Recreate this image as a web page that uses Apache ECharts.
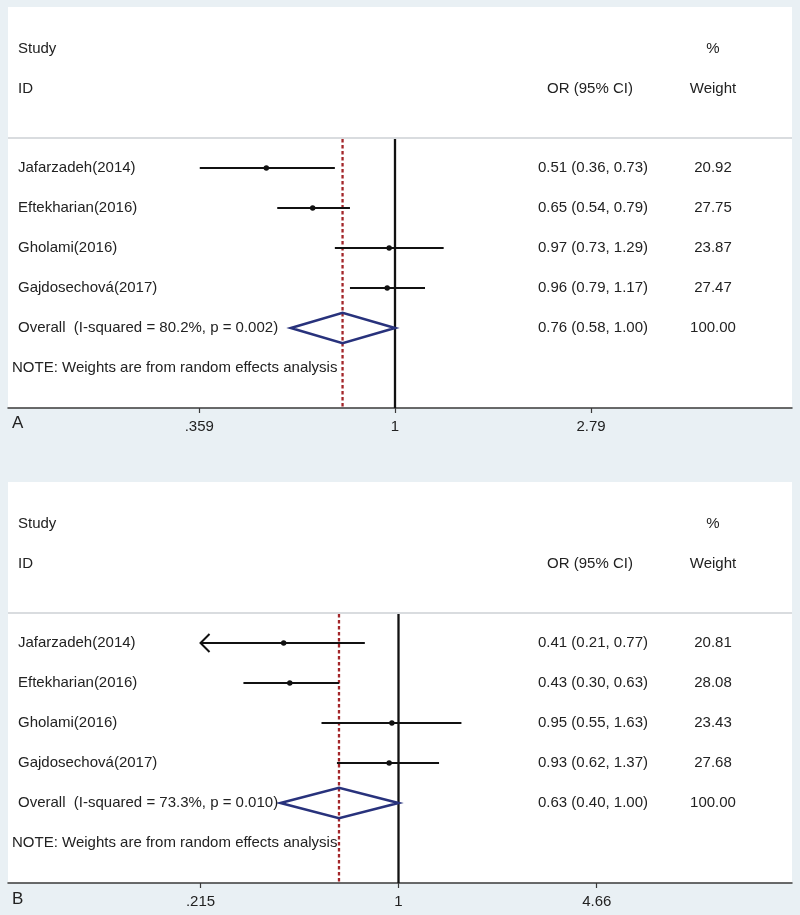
<!DOCTYPE html>
<html><head><meta charset="utf-8">
<script src="https://cdn.jsdelivr.net/npm/echarts@6/dist/echarts.min.js"></script>
<style>html,body{margin:0;padding:0;background:#e9f0f4}#c{width:800px;height:915px}</style>
</head><body><div id="c"></div>
<script>
// ---------- data ----------
const studies = ['Jafarzadeh(2014)', 'Eftekharian(2016)', 'Gholami(2016)', 'Gajdosechová(2017)'];

const orA = [0.51, 0.65, 0.97, 0.96];
const loA = [0.36, 0.54, 0.73, 0.79];
const hiA = [0.73, 0.79, 1.29, 1.17];
const weightA = ['20.92', '27.75', '23.87', '27.47'];
const overallA = [0.76, 0.58, 1.00];
const overallLabelA = 'Overall  (I-squared = 80.2%, p = 0.002)';
const ticksA = [0.359, 1, 2.79];
const tickLabelsA = ['.359', '1', '2.79'];

const orB = [0.41, 0.43, 0.95, 0.93];
const loB = [0.21, 0.30, 0.55, 0.62];
const hiB = [0.77, 0.63, 1.63, 1.37];
const weightB = ['20.81', '28.08', '23.43', '27.68'];
const overallB = [0.63, 0.40, 1.00];
const overallLabelB = 'Overall  (I-squared = 73.3%, p = 0.010)';
const ticksB = [0.215, 1, 4.66];
const tickLabelsB = ['.215', '1', '4.66'];

const noteText = 'NOTE: Weights are from random effects analysis';
const headers = ['Study', 'ID', '%', 'OR (95% CI)', 'Weight'];

// ---------- layout ----------
const FONT = '"Liberation Sans", Arial, sans-serif';
const TXT = '#222';
const GRID_LEFT = 8, GRID_W = 784, GRID_H = 401;
const Y_MIN = -4.025, Y_MAX = 6, SEP_ROW = -0.75;

function fmt(v) { return v.toFixed(2); }

function panel(idx, top, or, lo, hi, w, overall, overallLabel, ticks, tickLabels, onePx, pxPerLn) {
  const lnMin = -(onePx - GRID_LEFT) / pxPerLn;
  const lnMax = (GRID_LEFT + GRID_W - onePx) / pxPerLn;
  const clipMin = ticks[0], clipMax = ticks[ticks.length - 1];
  const grid = { left: GRID_LEFT, top: top, width: GRID_W, height: GRID_H, show: true, backgroundColor: '#fff', borderWidth: 0 };
  const xAxis = {
    gridIndex: idx, type: 'log', logBase: Math.E,
    min: Math.exp(lnMin), max: Math.exp(lnMax),
    splitLine: { show: false },
    axisLine: { show: true, onZero: false, lineStyle: { color: '#3a3a3a', width: 1.5 } },
    axisTick: { show: true, length: 5, customValues: ticks, lineStyle: { color: '#3a3a3a', width: 1.2 } },
    axisLabel: {
      customValues: ticks, margin: 11, color: TXT, fontFamily: FONT, fontSize: 15,
      formatter: function (v) {
        const i = ticks.findIndex(t => Math.abs(t - v) / t < 1e-3);
        return i >= 0 ? tickLabels[i] : '';
      }
    }
  };
  const yAxis = { gridIndex: idx, type: 'value', inverse: true, min: Y_MIN, max: Y_MAX, show: false };

  const studyData = or.map((v, i) => [v, lo[i], hi[i], i]);
  const series = [];
  // separator line under header
  series.push({
    type: 'custom', xAxisIndex: idx, yAxisIndex: idx, silent: true, clip: false,
    data: [[1, SEP_ROW]],
    renderItem: function (params, api) {
      const cs = params.coordSys;
      const y = api.coord([1, SEP_ROW])[1];
      return { type: 'line', shape: { x1: cs.x, y1: y, x2: cs.x + cs.width, y2: y }, style: { stroke: '#d9dcdf', lineWidth: 2 } };
    }
  });
  // null line at 1 and dashed overall line
  series.push({
    type: 'custom', xAxisIndex: idx, yAxisIndex: idx, silent: true, clip: false, z: 3,
    data: [[1, 0], [overall[0], 1]],
    renderItem: function (params, api) {
      const x = api.value(0);
      const p1 = api.coord([x, SEP_ROW]), p2 = api.coord([x, Y_MAX]);
      const dashed = api.value(1) === 1;
      return {
        type: 'line', shape: { x1: p1[0], y1: p1[1] + 1, x2: p2[0], y2: p2[1] },
        style: dashed ? { stroke: '#a3262a', lineWidth: 2.3, lineDash: [3.5, 2.5] } : { stroke: '#111', lineWidth: 2.3 }
      };
    }
  });
  // study CIs
  series.push({
    type: 'custom', xAxisIndex: idx, yAxisIndex: idx, silent: true, clip: false, z: 4,
    data: studyData,
    renderItem: function (params, api) {
      const o = api.value(0), l = api.value(1), h = api.value(2), r = api.value(3);
      const a = api.coord([Math.max(l, clipMin), r]);
      const b = api.coord([Math.min(h, clipMax), r]);
      const c = api.coord([o, r]);
      const kids = [
        { type: 'line', shape: { x1: a[0], y1: a[1], x2: b[0], y2: b[1] }, style: { stroke: '#111', lineWidth: 2.2 } },
        { type: 'circle', shape: { cx: c[0], cy: c[1], r: 2.7 }, style: { fill: '#111' } }
      ];
      if (l < clipMin) {
        kids.push({ type: 'polyline', shape: { points: [[a[0] + 9, a[1] - 9], [a[0], a[1]], [a[0] + 9, a[1] + 9]] }, style: { stroke: '#111', lineWidth: 2, fill: null } });
      }
      return { type: 'group', children: kids };
    }
  });
  // overall diamond
  series.push({
    type: 'custom', xAxisIndex: idx, yAxisIndex: idx, silent: true, clip: false, z: 5,
    data: [[overall[0], overall[1], overall[2], 4]],
    renderItem: function (params, api) {
      const o = api.value(0), l = api.value(1), h = api.value(2), r = api.value(3);
      const pts = [api.coord([l, r]), api.coord([o, r - 0.38]), api.coord([h, r]), api.coord([o, r + 0.38])];
      return { type: 'polygon', shape: { points: pts }, style: { stroke: '#28327c', lineWidth: 2.6, fill: null } };
    }
  });
  // table text
  const rowsText = [];
  for (let i = 0; i < studies.length; i++) rowsText.push([studies[i], or[i], lo[i], hi[i], w[i], i]);
  rowsText.push([overallLabel, overall[0], overall[1], overall[2], '100.00', 4]);
  series.push({
    type: 'custom', xAxisIndex: idx, yAxisIndex: idx, silent: true, clip: false, z: 6,
    data: [[1, 0]],
    renderItem: function (params, api) {
      const cs = params.coordSys;
      const kids = [];
      const font = (align) => ({ fill: TXT, font: '15px ' + FONT, textAlign: align, textVerticalAlign: 'middle' });
      const yOf = (r) => api.coord([1, r])[1];
      const xStudy = cs.x + 10, xOR = cs.x + 585, xW = cs.x + 705;
      kids.push({ type: 'text', style: Object.assign({ x: xStudy, y: yOf(-2.97), text: headers[0] }, font('left')) });
      kids.push({ type: 'text', style: Object.assign({ x: xStudy, y: yOf(-1.98), text: headers[1] }, font('left')) });
      kids.push({ type: 'text', style: Object.assign({ x: xW, y: yOf(-2.97), text: headers[2] }, font('center')) });
      kids.push({ type: 'text', style: Object.assign({ x: xOR - 3, y: yOf(-1.98), text: headers[3] }, font('center')) });
      kids.push({ type: 'text', style: Object.assign({ x: xW, y: yOf(-1.98), text: headers[4] }, font('center')) });
      rowsText.forEach(function (t) {
        const y = yOf(t[5]);
        kids.push({ type: 'text', style: Object.assign({ x: xStudy, y: y, text: t[0] }, font('left')) });
        kids.push({ type: 'text', style: Object.assign({ x: xOR, y: y, text: fmt(t[1]) + ' (' + fmt(t[2]) + ', ' + fmt(t[3]) + ')' }, font('center')) });
        kids.push({ type: 'text', style: Object.assign({ x: xW, y: y, text: t[4] }, font('center')) });
      });
      kids.push({ type: 'text', style: Object.assign({ x: cs.x + 4, y: yOf(5), text: noteText }, font('left')) });
      return { type: 'group', children: kids };
    }
  });
  return { grid, xAxis, yAxis, series };
}

const pA = panel(0, 7, orA, loA, hiA, weightA, overallA, overallLabelA, ticksA, tickLabelsA, 395, 191.1);
const pB = panel(1, 482, orB, loB, hiB, weightB, overallB, overallLabelB, ticksB, tickLabelsB, 398.5, 128.8);

const chart = echarts.init(document.getElementById('c'), null, { renderer: 'canvas' });
chart.setOption({
  backgroundColor: '#e9f0f4',
  animation: false,
  grid: [pA.grid, pB.grid],
  xAxis: [pA.xAxis, pB.xAxis],
  yAxis: [pA.yAxis, pB.yAxis],
  series: pA.series.concat(pB.series),
  graphic: [
    { type: 'text', left: 12, top: 415, style: { text: 'A', fill: '#222', font: '17px ' + FONT } },
    { type: 'text', left: 12, top: 891, style: { text: 'B', fill: '#222', font: '17px ' + FONT } }
  ]
});
</script>
</body></html>
